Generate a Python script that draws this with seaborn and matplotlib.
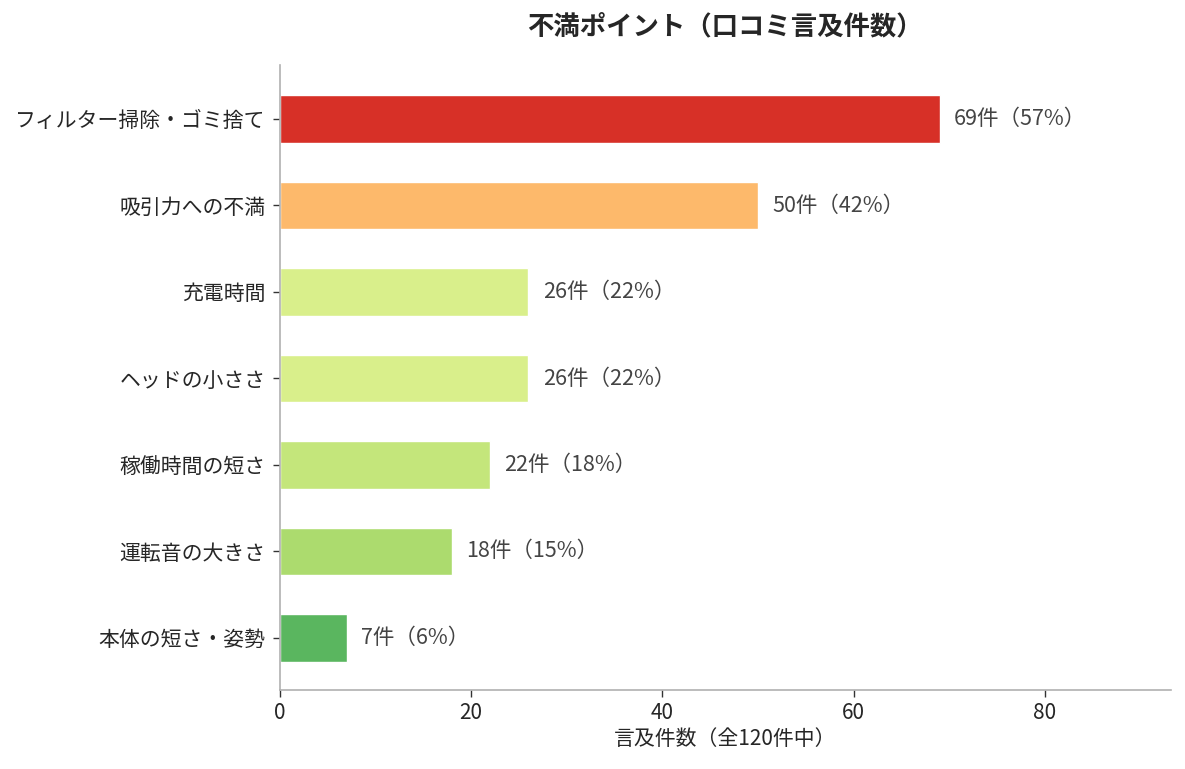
import matplotlib
matplotlib.use("Agg")
import matplotlib.pyplot as plt
import pandas as pd
import seaborn as sns

# Data
categories = ["フィルター掃除・ゴミ捨て", "吸引力への不満", "充電時間", "ヘッドの小ささ",
              "稼働時間の短さ", "運転音の大きさ", "本体の短さ・姿勢"]
counts = [69, 50, 26, 26, 22, 18, 7]
percents = [57, 42, 22, 22, 18, 15, 6]
bar_colors = ["#d73027", "#fdb96b", "#d9ef8b", "#d9ef8b", "#c4e67b", "#acdb6e", "#5ab65f"]
total = 120

sns.set_style("white")
plt.rcParams['font.family'] = ['Noto Sans CJK JP', 'DejaVu Sans']

df = pd.DataFrame({"category": categories, "count": counts})

fig, ax = plt.subplots(figsize=(11.85, 7.69), dpi=100)
fig.subplots_adjust(left=0.236, right=0.988, top=0.915, bottom=0.103)

sns.barplot(data=df, x="count", y="category", hue="category", palette=bar_colors,
            legend=False, width=0.55, saturation=1, ax=ax)

# value labels
for i, (c, p) in enumerate(zip(counts, percents)):
    ax.text(c + 1.5, i, f"{c}件（{p}%）", va="center", ha="left",
            fontsize=15.5, color="#444444")

ax.set_xlim(0, max(counts) * 1.35)
ax.set_ylim(len(categories) - 0.4, -0.62)
ax.set_title("不満ポイント（口コミ言及件数）", fontsize=19, fontweight="bold", pad=22)
ax.set_xlabel(f"言及件数（全{total}件中）", fontsize=15, labelpad=3)
ax.set_ylabel("")
ax.tick_params(axis="y", labelsize=15, length=5, width=1, color="#333333", left=True, pad=5)
ax.tick_params(axis="x", labelsize=15, length=5, width=1, color="#333333", bottom=True)

sns.despine(ax=ax)
for side in ["left", "bottom"]:
    ax.spines[side].set_color("#b0b0b0")
    ax.spines[side].set_linewidth(1.2)

fig.savefig("out.png", dpi=100)
plt.close(fig)
